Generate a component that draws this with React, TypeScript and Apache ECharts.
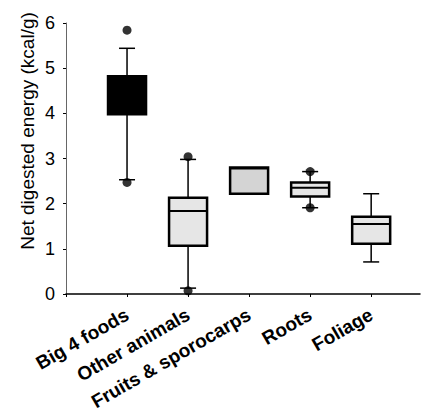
import React, { useEffect, useRef } from "react";
import * as echarts from "echarts";

const categories = ["Big 4 foods", "Other animals", "Fruits & sporocarps", "Roots", "Foliage"];
// [min, Q1, median, Q3, max]
const boxStats = [
  [2.53, 3.98, 4.4, 4.82, 5.44],
  [0.13, 1.07, 1.84, 2.13, 2.98],
  [2.22, 2.22, 2.78, 2.8, 2.8],
  [1.91, 2.16, 2.35, 2.47, 2.71],
  [0.71, 1.11, 1.55, 1.71, 2.22],
];
const hasWhiskers = [true, true, false, true, true];
const boxFills = ["#000000", "#e6e6e6", "#d4d4d4", "#e6e6e6", "#e6e6e6"];
// [category position, value]
const outliers = [
  [1, 5.84],
  [1, 2.47],
  [2, 3.04],
  [2, 0.07],
  [4, 2.71],
  [4, 1.91],
];
const yTicks = [0, 1, 2, 3, 4, 5, 6];
const yTitle = "Net digested energy (kcal/g)";

export default function App() {
  const ref = useRef<HTMLDivElement>(null);
  useEffect(() => {
    const chart = echarts.init(ref.current!, null, { renderer: "svg" });
    const boxData = boxStats.map((s, i) => [i + 1, ...s, i]);
    chart.setOption({
      animation: false,
      backgroundColor: "#ffffff",
      grid: { left: 66, right: 5, top: 23, bottom: 123 },
      graphic: [
        {
          type: "text",
          x: 27,
          y: 131,
          rotation: Math.PI / 2,
          style: {
            text: yTitle,
            fontFamily: "Liberation Sans, Arial, sans-serif",
            fontSize: 19,
            fill: "#000",
            textAlign: "center",
            textVerticalAlign: "middle",
          },
        },
      ],
      xAxis: {
        type: "value",
        min: 0,
        max: 5.8,
        interval: 1,
        splitLine: { show: false },
        axisLine: { show: true, lineStyle: { color: "#000", width: 1.5 } },
        axisTick: { show: true, length: 3, lineStyle: { color: "#000" } },
        axisLabel: {
          rotate: 30,
          margin: 19,
          fontFamily: "Liberation Sans, Arial, sans-serif",
          fontWeight: "bold",
          fontSize: 19,
          color: "#000",
          showMaxLabel: false,
          formatter: (v: number) => (v >= 1 && v <= 5 ? categories[Math.round(v) - 1] : ""),
        },
      },
      yAxis: {
        type: "value",
        min: yTicks[0],
        max: yTicks[yTicks.length - 1],
        interval: 1,
        splitLine: { show: false },
        axisLine: { show: true, lineStyle: { color: "#666", width: 1 } },
        axisTick: { show: true, length: 3, lineStyle: { color: "#000" } },
        axisLabel: {
          margin: 11,
          fontFamily: "Liberation Sans, Arial, sans-serif",
          fontSize: 18,
          color: "#000",
        },
      },
      series: [
        {
          type: "custom",
          data: boxData,
          encode: { x: 0, y: [1, 2, 3, 4, 5] },
          renderItem: (params: any, api: any) => {
            const x = api.value(0);
            const idx = api.value(6);
            const pMin = api.coord([x, api.value(1)]);
            const pQ1 = api.coord([x, api.value(2)]);
            const pMed = api.coord([x, api.value(3)]);
            const pQ3 = api.coord([x, api.value(4)]);
            const pMax = api.coord([x, api.value(5)]);
            const cx = pMin[0];
            const w = 38;
            const cap = 16;
            const children: any[] = [];
            if (hasWhiskers[idx]) {
              children.push(
                { type: "line", shape: { x1: cx, y1: pMax[1], x2: cx, y2: pQ3[1] }, style: { stroke: "#000", lineWidth: 1.5 } },
                { type: "line", shape: { x1: cx, y1: pQ1[1], x2: cx, y2: pMin[1] }, style: { stroke: "#000", lineWidth: 1.5 } },
                { type: "line", shape: { x1: cx - cap / 2, y1: pMax[1], x2: cx + cap / 2, y2: pMax[1] }, style: { stroke: "#000", lineWidth: 1.5 } },
                { type: "line", shape: { x1: cx - cap / 2, y1: pMin[1], x2: cx + cap / 2, y2: pMin[1] }, style: { stroke: "#000", lineWidth: 1.5 } }
              );
            }
            children.push({
              type: "rect",
              shape: { x: cx - w / 2, y: pQ3[1], width: w, height: pQ1[1] - pQ3[1] },
              style: { fill: boxFills[idx], stroke: "#000", lineWidth: 2.5 },
            });
            children.push({
              type: "line",
              shape: { x1: cx - w / 2, y1: pMed[1], x2: cx + w / 2, y2: pMed[1] },
              style: { stroke: "#000", lineWidth: 2 },
            });
            return { type: "group", children };
          },
          z: 2,
        },
        {
          type: "scatter",
          data: outliers,
          symbol: "circle",
          symbolSize: 9,
          itemStyle: { color: "#000" },
          z: 3,
        },
      ],
    });
    return () => chart.dispose();
  }, []);
  return (
    <div
      ref={ref}
      style={{ position: "fixed", left: 0, top: 0, width: 425, height: 417, background: "#fff" }}
    />
  );
}
